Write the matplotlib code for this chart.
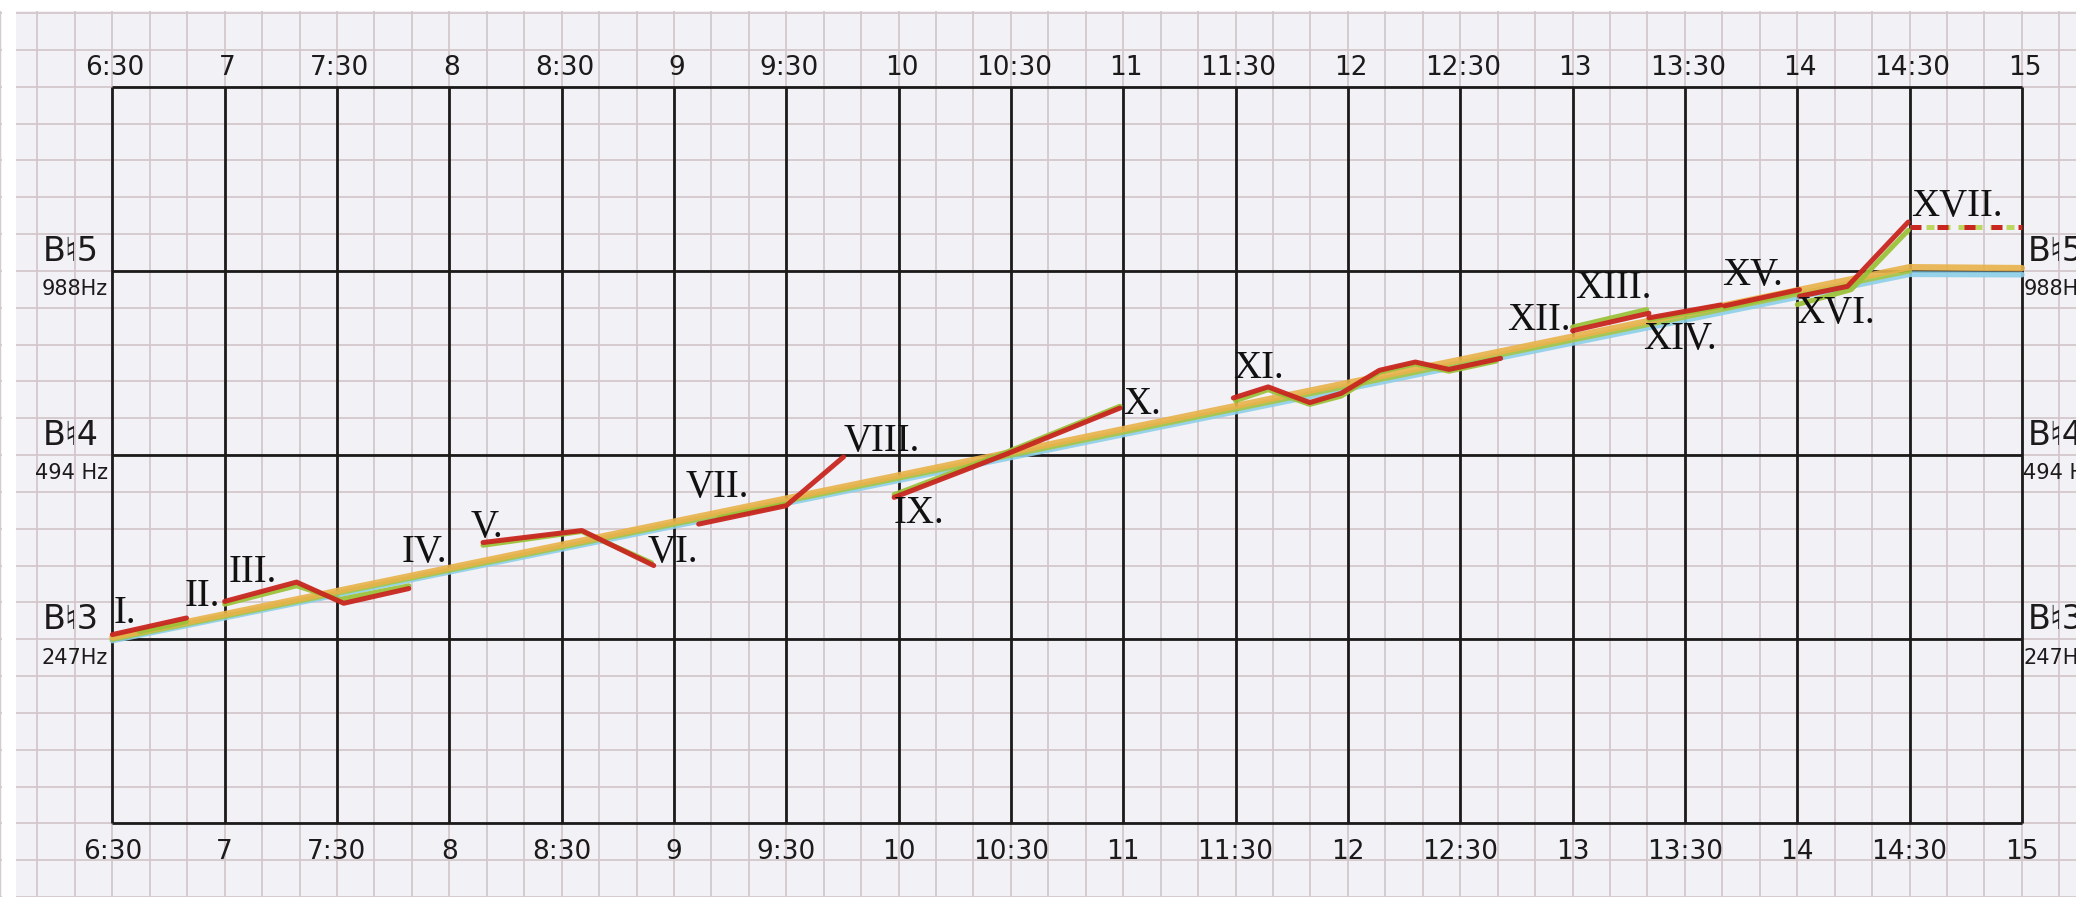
import numpy as np
import matplotlib
matplotlib.use("Agg")
import matplotlib.pyplot as plt

nan = np.nan

# ---- axis labels -------------------------------------------------------
time_ticks = [6.5, 7, 7.5, 8, 8.5, 9, 9.5, 10, 10.5, 11, 11.5, 12, 12.5,
              13, 13.5, 14, 14.5, 15]
time_labels = ["6:30", "7", "7:30", "8", "8:30", "9", "9:30", "10", "10:30",
               "11", "11:30", "12", "12:30", "13", "13:30", "14", "14:30", "15"]
octave_ticks = [3, 4, 5]
note_labels = ["B\u266e3", "B\u266e4", "B\u266e5"]
hz_labels = ["247Hz", "494 Hz", "988Hz"]

# ---- series (time in hours, pitch in octaves: 3 = B3, 4 = B4, 5 = B5) --
blue_t = [6.5, 14.5, 15.0]
blue_p = [2.993, 4.982, 4.98]

orange_t = [6.5, 14.5, 15.0]
orange_p = [3.01, 5.02, 5.015]

green_base_t = [6.5, 14.5]
green_base_p = [3.0, 5.0]

red_t = [6.50, 6.83, nan,
         7.00, 7.32, 7.53, 7.82, nan,
         8.15, 8.59, 8.91, nan,
         9.11, 9.50, 9.755, nan,
         9.98, 10.49, 10.985, nan,
         11.49, 11.645, 11.83, 11.97, 12.14, 12.30, 12.45, 12.68, nan,
         13.00, 13.34, nan,
         13.34, 13.66, nan,
         13.676, 14.01, nan,
         14.01, 14.224, 14.494]
red_p = [3.025, 3.115, nan,
         3.205, 3.31, 3.195, 3.275, nan,
         3.525, 3.59, 3.40, nan,
         3.625, 3.725, 3.99, nan,
         3.77, 4.01, 4.255, nan,
         4.31, 4.37, 4.285, 4.335, 4.46, 4.505, 4.465, 4.525, nan,
         4.675, 4.77, nan,
         4.745, 4.815, nan,
         4.81, 4.898, nan,
         4.862, 4.916, 5.265]

green_t = [6.62, 6.83, nan,
           7.00, 7.32, 7.51, 7.82, nan,
           8.15, 8.59, 8.90, nan,
           9.20, 9.50, nan,
           9.98, 10.49, 10.985, nan,
           11.50, 11.645, 11.83, 11.97, 12.14, 12.30, 12.45, 12.66, nan,
           13.00, 13.33, nan,
           13.34, 13.66, nan,
           13.676, 14.00, nan,
           14.00, 14.24, 14.494]
green_p = [3.04, 3.095, nan,
           3.19, 3.29, 3.215, 3.29, nan,
           3.51, 3.585, 3.415, nan,
           3.66, 3.735, nan,
           3.785, 4.02, 4.265, nan,
           4.295, 4.355, 4.275, 4.32, 4.45, 4.495, 4.455, 4.51, nan,
           4.695, 4.79, nan,
           4.735, 4.805, nan,
           4.80, 4.885, nan,
           4.817, 4.898, 5.22]

hold_t = [14.5, 15.0]
hold_p = [5.238, 5.238]

roman_labels = ["I.", "II.", "III.", "IV.", "V.", "VI.", "VII.", "VIII.", "IX.",
                "X.", "XI.", "XII.", "XIII.", "XIV.", "XV.", "XVI.", "XVII."]
roman_t = [6.558, 6.90, 7.127, 7.89, 8.17, 8.994, 9.194, 9.924, 10.09,
           11.084, 11.60, 12.85, 13.18, 13.477, 13.80, 14.17, 14.713]
roman_p = [3.14, 3.232, 3.36, 3.473, 3.608, 3.473, 3.825, 4.076, 3.685,
           4.274, 4.472, 4.729, 4.904, 4.626, 4.975, 4.768, 5.352]

# ---- figure -------------------------------------------------------------
fig = plt.figure(figsize=(20.76, 8.97), dpi=100)
ax = fig.add_axes([0, 0, 1, 1])
paper = "#f2f1f5"
ax.set_facecolor(paper)
ax.set_xlim(6.011, 15.241)
ax.set_ylim(1.633, 6.471)
for s in ax.spines.values():
    s.set_visible(False)

# graph paper grid (10 minutes x 1/5 octave)
ax.set_xticks(np.arange(6.5 - 3 * 1 / 6, 15.3, 1 / 6), minor=True)
ax.set_yticks(np.arange(1.6, 6.5, 0.2), minor=True)
ax.set_xticks([])
ax.set_yticks([])
ax.grid(which="minor", color="#d4c8cc", linewidth=1.3)
ax.tick_params(which="both", length=0, labelbottom=False, labelleft=False)
ax.set_axisbelow(True)

# white paper margins
ax.axvspan(6.011, 6.069, color="white", zorder=1, lw=0)
ax.axhspan(6.412, 6.471, color="white", zorder=1, lw=0)

# black frame
ink = "#1c1a1a"
ax.vlines(time_ticks, 2, 6, color=ink, linewidth=2.0, zorder=2)
ax.hlines([2] + octave_ticks + [6], 6.5, 15, color=ink, linewidth=2.0, zorder=2)

# tick labels
hand = "DejaVu Sans"
for t, lab in zip(time_ticks, time_labels):
    ax.annotate(lab, (t, 6), xytext=(2, 4), textcoords="offset points",
                ha="center", va="bottom", fontsize=19, family=hand, color=ink)
    ax.annotate(lab, (t, 2), xytext=(0, -11), textcoords="offset points",
                ha="center", va="top", fontsize=19, family=hand, color=ink)
for p, n, h in zip(octave_ticks, note_labels, hz_labels):
    ax.annotate(n, (6.5, p), xytext=(-10, 2), textcoords="offset points",
                ha="right", va="bottom", fontsize=24, family=hand, color=ink)
    ax.annotate(h, (6.5, p), xytext=(-3, -6), textcoords="offset points",
                ha="right", va="top", fontsize=15, family=hand, color=ink)
    ax.annotate(n, (15, p), xytext=(4, 2), textcoords="offset points",
                ha="left", va="bottom", fontsize=24, family=hand, color=ink)
    ax.annotate(h, (15, p), xytext=(1, -6), textcoords="offset points",
                ha="left", va="top", fontsize=15, family=hand, color=ink)

# lines
ax.plot(blue_t, blue_p, color="#8ccfe8", lw=4.2, alpha=0.9, zorder=3,
        solid_capstyle="round")
ax.plot(green_base_t, green_base_p, color="#a6c63c", lw=3.8, alpha=0.85,
        zorder=4, solid_capstyle="round")
ax.plot(orange_t, orange_p, color="#e8b24a", lw=4.6, alpha=0.9, zorder=5,
        solid_capstyle="round")
ax.plot(green_t, green_p, color="#9cc23a", lw=3.6, alpha=0.95, zorder=6,
        solid_capstyle="round")
ax.plot(red_t, red_p, color="#c8261f", lw=3.6, alpha=0.95, zorder=7,
        solid_capstyle="round")
ax.plot(hold_t, hold_p, color="#bcd65e", lw=3.6, zorder=6,
        dashes=(1.6, 1.6), dash_capstyle="butt")
ax.plot(hold_t, hold_p, color="#c8261f", lw=3.6, zorder=7,
        dashes=(2.2, 1.6, 0.0, 1.6), dash_capstyle="butt")

for lab, t, p in zip(roman_labels, roman_t, roman_p):
    ax.text(t, p, lab, ha="center", va="center", fontsize=28,
            family="Liberation Serif", color="#111111", zorder=8)

fig.savefig("out.png", dpi=100)
